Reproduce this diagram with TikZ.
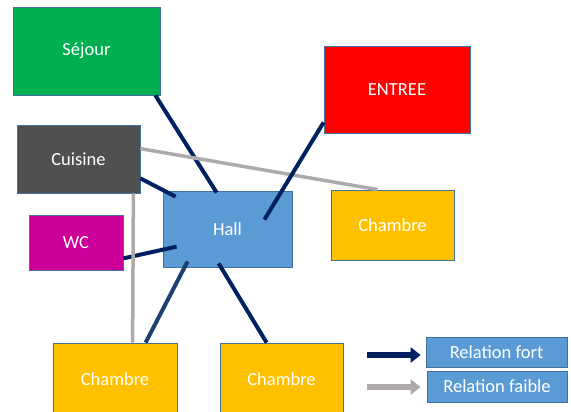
\documentclass[tikz,border=0pt]{standalone}
\usepackage{fontspec}
\setmainfont{Carlito}
\usetikzlibrary{calc,arrows.meta}
\definecolor{cgreen}{HTML}{00B050}
\definecolor{cdark}{HTML}{505050}
\definecolor{cmag}{HTML}{CC0099}
\definecolor{cblue}{HTML}{5B9BD5}
\definecolor{cred}{HTML}{FF0000}
\definecolor{cyel}{HTML}{FFC000}
\definecolor{cedge}{HTML}{41719C}
\definecolor{cnavy}{HTML}{002060}
\definecolor{cslate}{HTML}{1F3F6F}
\definecolor{cgray}{HTML}{AEAAAA}
\tikzset{
  room/.style={draw=cedge, line width=0.75pt, text=white, inner sep=0pt,
    font=\fontsize{18.5}{22}\selectfont},
  strong/.style={draw=cnavy, line width=4pt},
  weak/.style={draw=cgray, line width=3.5pt},
}
\begin{document}
\begin{tikzpicture}[x=1pt,y=-1pt]
\useasboundingbox (0,0) rectangle (571,412);
\node[room, fill=cgreen, minimum width=147pt, minimum height=88pt] (sejour) at (86.5,51) {Séjour};
\node[room, fill=cred, minimum width=146pt, minimum height=87pt] (entree) at (397,89.5) {ENTREE};
\node[room, fill=cdark, minimum width=123pt, minimum height=68pt] (cuisine) at (78.5,159) {Cuisine};
\node[room, fill=cmag, minimum width=94pt, minimum height=55pt] (wc) at (76,242.5) {WC};
\node[room, fill=cblue, minimum width=129pt, minimum height=76pt] (hall) at (227.5,229) {Hall};
\node[room, fill=cyel, minimum width=123pt, minimum height=70pt] (ch1) at (392.5,225) {Chambre};
\node[room, fill=cyel, minimum width=124pt, minimum height=72pt] (ch2) at (115,379) {Chambre};
\node[room, fill=cyel, minimum width=123pt, minimum height=72pt] (ch3) at (281.5,379) {Chambre};
\node[room, fill=cblue, minimum width=141pt, minimum height=30pt] (leg1) at (496.5,352) {Relation fort};
\node[room, fill=cblue, minimum width=140pt, minimum height=31pt] (leg2) at (497,386.5) {Relation faible};

\draw[strong] ($(sejour.south east)+(-5,0)$) -- ($(hall.north west)+(54,2)$);
\draw[strong] ($(cuisine.south east)+(0,-15)$) -- ($(hall.north west)+(13,6)$);
\draw[strong] ($(wc.south east)+(0,-12)$) -- ($(hall.north west)+(14,56)$);
\draw[strong, draw=cslate] ($(hall.south west)+(25,-6)$) -- ($(ch2.north west)+(93,0)$);
\draw[strong] ($(hall.south west)+(56,-4)$) -- ($(ch3.north west)+(47,0)$);
\draw[weak] ($(cuisine.north east)+(0,24)$) -- ($(ch1.north west)+(47,0)$);
\draw[weak] ($(cuisine.south east)+(-7,0)$) -- ($(ch2.north west)+(80,0)$);
\draw[strong] ($(entree.south west)+(0,-11)$) -- ($(hall.north east)+(-28,29)$);

\coordinate (a1) at (367,355);
\coordinate (a2) at (367,387);
\draw[draw=cnavy, line width=6pt, -{Triangle[length=10pt,width=15pt]}] (a1) -- ($(leg1.west)+(-5,3)$);
\draw[draw=cgray, line width=6pt, -{Triangle[length=10pt,width=15pt]}] (a2) -- ($(leg2.west)+(-6,0.5)$);
\end{tikzpicture}
\end{document}
